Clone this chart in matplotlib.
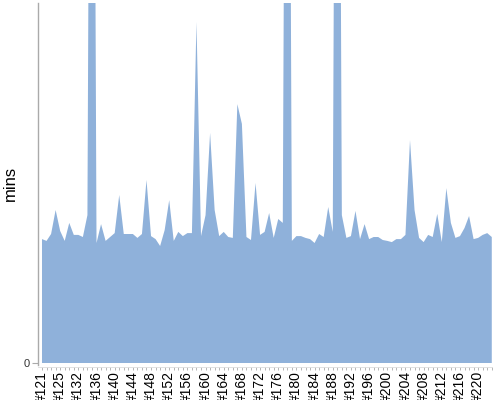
import matplotlib
matplotlib.use("Agg")
import numpy as np
import matplotlib.pyplot as plt

# ============================================================
# Data: one value (minutes) per build
# ============================================================
builds = [121, 122, 123, 124, 125] + list(range(129, 224))
labels = ["#%d" % b for b in builds]

mins = [41.3, 40.7, 43.0, 51.0, 44.0, 40.7, 46.7, 42.7, 42.7, 42.0,
        49.3, 400.0, 40.0, 46.3, 40.7, 42.0, 43.3, 56.0, 43.0, 43.0,
        43.0, 41.7, 43.0, 61.0, 42.3, 41.3, 39.0, 44.3, 54.3, 40.7,
        43.7, 42.3, 43.3, 43.3, 113.7, 42.3, 49.3, 76.7, 51.0, 42.3,
        43.7, 42.0, 41.7, 86.3, 79.7, 42.0, 41.0, 60.0, 42.7, 43.7,
        50.0, 41.7, 48.0, 46.7, 400.0, 40.7, 42.3, 42.3, 41.7, 41.3,
        40.0, 43.0, 42.0, 52.0, 43.7, 400.0, 49.3, 41.7, 42.3, 50.7,
        41.3, 46.3, 41.3, 42.0, 42.0, 41.0, 40.7, 40.3, 41.3, 41.3,
        42.7, 74.3, 51.0, 41.7, 40.3, 42.7, 42.0, 49.7, 40.3, 58.3,
        46.7, 41.7, 42.3, 45.0, 49.0, 41.3, 41.7, 42.7, 43.3, 42.0]

Y_MAX = 120
FILL = '#8FB1DA'
GRID_GRAY = '#aaaaaa'

plt.rcParams['font.family'] = ['Liberation Sans', 'DejaVu Sans']

fig = plt.figure(figsize=(5, 4), dpi=100)
ax = fig.add_axes([0.076, 0.0925, 0.908, 0.9])

x = np.arange(len(mins))
ax.fill_between(x, 0, mins, color=FILL, linewidth=0)

ax.set_xlim(-0.88, len(mins) - 0.95)
ax.set_ylim(0, Y_MAX)

# x axis: small tick for every build, label every 4th
ax.set_xticks(x, minor=True)
ax.set_xticks(x[::4])
ax.set_xticklabels(labels[::4], fontsize=6.8, color='#333333',
                   family='Liberation Sans')
ax.tick_params(axis='x', which='both', length=2.2, width=0.6,
               color=GRID_GRAY, pad=0.5, labelrotation=90)

# y axis: just the zero tick
ax.set_yticks([0])
ax.set_yticklabels(['0'], fontsize=8, color='#333333')
ax.tick_params(axis='y', length=4, width=0.8, color=GRID_GRAY, pad=2)
ax.set_ylabel("mins", fontsize=12, labelpad=4)

for side in ['top', 'right']:
    ax.spines[side].set_visible(False)
ax.spines['left'].set_color(GRID_GRAY)
ax.spines['left'].set_linewidth(1.0)
ax.spines['left'].set_bounds(-0.5, Y_MAX)
ax.spines['bottom'].set_color('#dddddd')
ax.spines['bottom'].set_linewidth(0.6)
ax.spines['bottom'].set_position(('outward', 3))

plt.savefig("out.png", dpi=100)
plt.close()
